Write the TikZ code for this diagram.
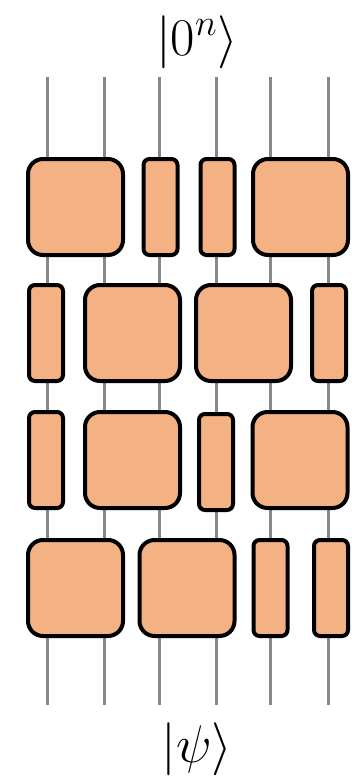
\RequirePackage{fix-cm}
\documentclass[tikz,border=0pt]{standalone}
\usetikzlibrary{positioning,calc}
\definecolor{gatefill}{HTML}{F4B183}
\definecolor{wirecol}{HTML}{888888}
\tikzset{
	wire/.style={draw=wirecol, line width=3pt}, % the qubit lines behind the gates
	gate/.style={draw, line width=4pt, fill=gatefill, inner sep=0pt, minimum height=96pt},
	wide gate/.style={gate, minimum width=95pt, rounded corners=15pt}, % two-qubit gate
	thin gate/.style={gate, minimum width=34pt, rounded corners=6pt}, % one-qubit gate
	ket/.style={font=\fontsize{53}{55}\selectfont, inner sep=0pt}
}

\begin{document}
\begin{tikzpicture}[x=1pt,y=-1pt]
            \useasboundingbox (0,0) rectangle (352,777);
            \foreach \x [count=\i] in {47.5,104.5,159.5,216.5,270.5,328.5} {
                \coordinate (top\i) at (\x,77);
                \coordinate (bot\i) at (\x,705);
                \draw[wire] (top\i) -- (bot\i);
            }
            % layer 1
            \node[wide gate] (g1a) at (75.5,207) {};
            \node[thin gate] (g1b) at (160.5,207) {};
            \node[thin gate] (g1c) at (217.5,207) {};
            \node[wide gate] (g1d) at (300.5,207) {};
            % layer 2
            \node[thin gate] (g2a) at (46,333) {};
            \node[wide gate] (g2b) at (132.5,333) {};
            \node[wide gate] (g2c) at (243.5,333) {};
            \node[thin gate] (g2d) at (329,333) {};
            % layer 3
            \node[thin gate] (g3a) at (46,460) {};
            \node[wide gate] (g3b) at (132.5,460) {};
            \node[thin gate] (g3c) at (216,462) {};
            \node[wide gate] (g3d) at (300,460) {};
            % layer 4
            \node[wide gate] (g4a) at (75.5,588) {};
            \node[wide gate] (g4b) at (187,588) {};
            \node[thin gate] (g4c) at (270.5,588) {};
            \node[thin gate] (g4d) at (331,588) {};
            % states
            \node[ket, anchor=base] (out) at (197,55) {$|0^n\rangle$};
            \node[ket, anchor=base] (in) at (197,762) {$|\psi\rangle$};
        \end{tikzpicture}
\end{document}
